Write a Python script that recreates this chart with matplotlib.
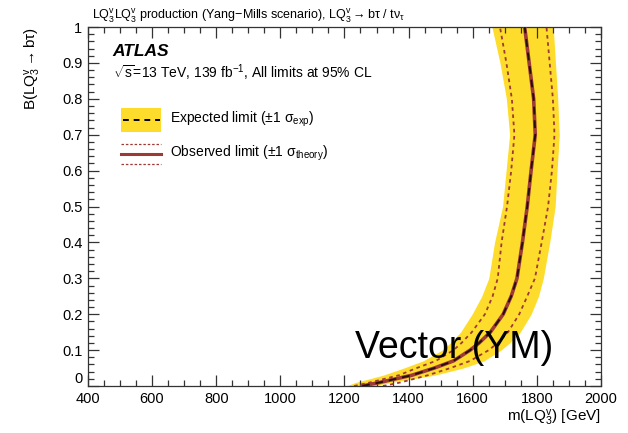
import matplotlib
matplotlib.use('Agg')
import matplotlib.pyplot as plt
from matplotlib.patches import Rectangle
from matplotlib.lines import Line2D
from matplotlib.ticker import MultipleLocator, FuncFormatter

br = [0.00, 0.01, 0.03, 0.05, 0.07, 0.10, 0.12, 0.15, 0.20, 0.25, 0.30, 0.40, 0.50, 0.60, 0.70, 0.80, 0.90, 1.00]
# Mass limits (GeV)
observed = [1255, 1310, 1410, 1480, 1540, 1592, 1620, 1655, 1695, 1720, 1738, 1755, 1770, 1782, 1795, 1790, 1776, 1762]
expected = [1255, 1310, 1410, 1480, 1540, 1592, 1620, 1655, 1695, 1720, 1738, 1755, 1770, 1782, 1795, 1790, 1776, 1762]
exp_lo = [1205, 1235, 1320, 1385, 1445, 1505, 1530, 1562, 1598, 1628, 1650, 1668, 1693, 1704, 1715, 1705, 1685, 1660]
exp_hi = [1290, 1345, 1480, 1570, 1635, 1688, 1715, 1748, 1782, 1805, 1820, 1840, 1857, 1863, 1870, 1865, 1858, 1851]
theory_lo = [1230, 1280, 1370, 1425, 1485, 1540, 1565, 1597, 1638, 1662, 1678, 1690, 1707, 1720, 1730, 1722, 1705, 1685]
theory_hi = [1320, 1375, 1460, 1530, 1592, 1650, 1678, 1710, 1745, 1770, 1794, 1815, 1835, 1847, 1855, 1850, 1840, 1830]

YELLOW = '#fddc2c'
RED = '#9e3a36'

plt.rcParams['font.family'] = ['Liberation Sans', 'DejaVu Sans']
plt.rcParams['mathtext.fontset'] = 'custom'
plt.rcParams['mathtext.rm'] = 'Liberation Sans'
plt.rcParams['mathtext.it'] = 'Liberation Sans:italic'
plt.rcParams['mathtext.bf'] = 'Liberation Sans:bold'


def ylabel_fmt(v, pos):
    if abs(v) < 1e-9:
        return '0'
    return f'{v:.1f}'.rstrip('0').rstrip('.')


def main():
    fig = plt.figure(figsize=(6.28, 4.33), dpi=100)
    ax = fig.add_axes([0.140, 0.1085, 0.817, 0.829])

    ax.fill_betweenx(br, exp_lo, exp_hi, color=YELLOW, lw=0, zorder=1)
    ax.plot(theory_lo, br, color=RED, lw=1.3, ls=(0, (2, 2)), zorder=2)
    ax.plot(theory_hi, br, color=RED, lw=1.3, ls=(0, (2, 2)), zorder=2)
    ax.plot(observed, br, color=RED, lw=2.6, zorder=3)
    ax.plot(expected, br, color='black', lw=1.4, ls=(0, (4, 3)), alpha=0.75, zorder=4)

    ax.set_xlim(400, 2000)
    ax.set_ylim(0, 1)
    ax.xaxis.set_major_locator(MultipleLocator(200))
    ax.xaxis.set_minor_locator(MultipleLocator(50))
    ax.yaxis.set_major_locator(MultipleLocator(0.1))
    ax.yaxis.set_minor_locator(MultipleLocator(0.02))
    ax.yaxis.set_major_formatter(FuncFormatter(ylabel_fmt))
    ax.tick_params(which='both', direction='in', top=True, right=True, labelsize=10.5, color='#333333')
    ax.tick_params(which='major', length=8, width=0.9, pad=4)
    ax.tick_params(which='minor', length=4, width=0.9)
    for s in ax.spines.values():
        s.set_linewidth(0.9)
        s.set_color('#333333')

    ax.set_xlabel(r'm(LQ$_3^{\mathrm{v}}$) [GeV]', fontsize=11, loc='right', labelpad=2)
    ax.set_ylabel(r'B(LQ$_3^{\mathrm{v}}\rightarrow\mathrm{b}\mathrm{\tau}$)', fontsize=11, loc='top', labelpad=14)

    # ROOT-style: the "0" on the y axis sits just above the "400"
    fig.canvas.draw()
    for lab in ax.get_yticklabels():
        if lab.get_text() == '0':
            lab.set_verticalalignment('bottom')

    fig.text(0.147, 0.962, r'LQ$_3^{\mathrm{v}}$LQ$_3^{\mathrm{v}}$ production (Yang$-$Mills scenario), '
             r'LQ$_3^{\mathrm{v}}$$\rightarrow$b$\mathrm{\tau}$ / t$\mathrm{\nu}_{\mathrm{\tau}}$',
             fontsize=9, va='center', ha='left')

    ax.text(0.048, 0.932, 'ATLAS', transform=ax.transAxes, fontsize=12.5,
            fontweight='bold', fontstyle='italic', va='center')
    ax.text(0.048, 0.872, r'$\sqrt{\mathrm{s}}$=13 TeV, 139 fb$^{-1}$, All limits at 95% CL',
            transform=ax.transAxes, fontsize=10, va='center')

    # legend drawn by hand, ROOT style
    ax.add_patch(Rectangle((0.064, 0.707), 0.079, 0.067, transform=ax.transAxes,
                           facecolor=YELLOW, edgecolor='none', zorder=5))
    ax.add_line(Line2D([0.068, 0.141], [0.742, 0.742], transform=ax.transAxes,
                       color='black', lw=1.4, ls=(0, (3, 2.5)), zorder=6))
    ax.text(0.160, 0.742, r'Expected limit ($\pm$1 $\mathrm{\sigma}_{\mathrm{exp}}$)',
            transform=ax.transAxes, fontsize=10, va='center')
    ax.add_line(Line2D([0.064, 0.143], [0.673, 0.673], transform=ax.transAxes,
                       color=RED, lw=0.9, ls=(0, (2, 1.5)), zorder=6))
    ax.add_line(Line2D([0.064, 0.143], [0.645, 0.645], transform=ax.transAxes,
                       color=RED, lw=2.2, zorder=6))
    ax.add_line(Line2D([0.064, 0.143], [0.618, 0.618], transform=ax.transAxes,
                       color=RED, lw=0.9, ls=(0, (2, 1.5)), zorder=6))
    ax.text(0.160, 0.648, r'Observed limit ($\pm$1 $\mathrm{\sigma}_{\mathrm{theory}}$)',
            transform=ax.transAxes, fontsize=10, va='center')

    ax.text(0.52, 0.078, 'Vector (YM)', transform=ax.transAxes, fontsize=27,
            va='baseline', ha='left', zorder=7)

    fig.savefig('out.png', dpi=100)


if __name__ == '__main__':
    main()
